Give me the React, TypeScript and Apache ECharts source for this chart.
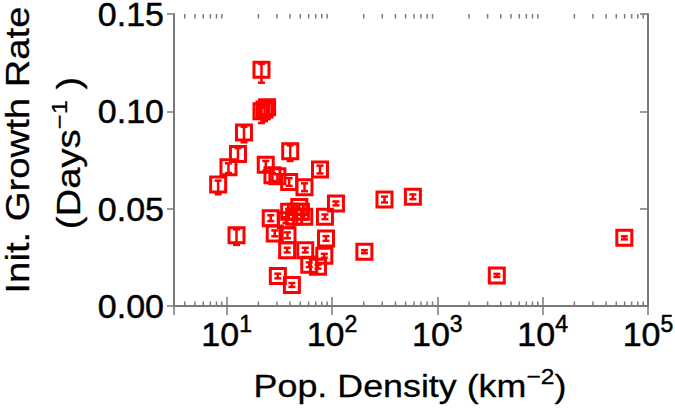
import React, { useEffect, useRef } from "react";
import * as echarts from "echarts";

// Population density (km^-2) for each region
const density = [21.4, 21.4, 22.9, 24.2, 14.6, 12.8, 10.4, 8.3, 40.1, 23.5, 27.2, 30.3, 39.2, 54.8, 76.9, 109, 12.4, 26.2, 39.2, 45.4, 50.7, 43.7, 54.5, 36.5, 48.9, 85.7, 28.6, 37.8, 87.7, 37.5, 55.7, 84.5, 60.8, 73.6, 30.6, 41.6, 315, 586, 203, 3670, 59600];
// Initial growth rate (days^-1)
const rate = [0.1214, 0.1, 0.101, 0.1021, 0.0891, 0.0781, 0.0713, 0.0624, 0.0795, 0.0725, 0.0672, 0.0667, 0.0637, 0.061, 0.0701, 0.0527, 0.0364, 0.0451, 0.0484, 0.0484, 0.0484, 0.0458, 0.0458, 0.0441, 0.0508, 0.0458, 0.0373, 0.0363, 0.0347, 0.0287, 0.0287, 0.0258, 0.0212, 0.0202, 0.0154, 0.0108, 0.0547, 0.0561, 0.0279, 0.0157, 0.035];
// error below / above the value
const errLow = [0.0067, 0.006, 0.006, 0.006, 0.005, 0.004, 0.003, 0.005, 0.005, 0.003, 0.003, 0.003, 0.002, 0.002, 0.002, 0.001, 0.005, 0.0015, 0.0015, 0.0015, 0.0015, 0.0015, 0.0015, 0.0015, 0.0015, 0.0012, 0.0015, 0.0015, 0.0012, 0.0012, 0.0012, 0.001, 0.0012, 0.001, 0.0012, 0.001, 0.0015, 0.0012, 0.0008, 0.0008, 0.0008];
const errHigh = [0.003, 0.002, 0.002, 0.002, 0.003, 0.003, 0.002, 0.002, 0.003, 0.002, 0.001, 0.001, 0.002, 0.002, 0.002, 0.001, 0.003, 0.0015, 0.0015, 0.0015, 0.0015, 0.0015, 0.0015, 0.0015, 0.0015, 0.0012, 0.0015, 0.0015, 0.0012, 0.0012, 0.0012, 0.001, 0.0012, 0.001, 0.0012, 0.001, 0.0015, 0.0012, 0.0008, 0.0008, 0.0008];

// axis ticks
const xDecadeExponents = [1, 2, 3, 4, 5];
const yTickValues = [0, 0.05, 0.1, 0.15];
const xMin = 3.1623;
const xMax = 100000;
const minorMultipliers = [2, 3, 4, 5, 6, 7, 8, 9];
const minorDecades = [1, 10, 100, 1000, 10000];

const FONT = "'Liberation Sans', Arial, Helvetica, sans-serif";
const RED = "#ff0000";
const GREY = "#7a7a7a";

export default function App() {
  const ref = useRef<HTMLDivElement>(null);
  useEffect(() => {
    if (!ref.current) return;
    const chart = echarts.init(ref.current, null, { renderer: "svg" });

    const points = density.map((d, i) => [d, rate[i]]);
    const errData = density.map((d, i) => [d, rate[i] - errLow[i], rate[i] + errHigh[i]]);
    const minorTicks: number[][] = [];
    minorDecades.forEach((dec) =>
      minorMultipliers.forEach((m) => {
        const v = dec * m;
        if (v > xMin && v < xMax) minorTicks.push([v, 0]);
      })
    );

    const xLabelFormatter = (v: number) => {
      const lg = Math.log10(v);
      const e = Math.round(lg);
      if (Math.abs(lg - e) > 1e-6 || xDecadeExponents.indexOf(e) < 0) return "";
      return `{b|10}{s|${e}}`;
    };

    const bold = { textBorderColor: "#000", textBorderWidth: 0.5 };
    const boldG = { stroke: "#000", lineWidth: 0.3 };

    chart.setOption({
      animation: false,
      grid: { left: 174, right: 27, top: 14, bottom: 103, outerBoundsMode: "none" },
      xAxis: [
        {
          type: "log",
          logBase: 10,
          min: xMin,
          max: xMax,
          position: "bottom",
          axisLine: { lineStyle: { color: GREY, width: 2 } },
          axisTick: { inside: true, length: 9, lineStyle: { color: GREY, width: 1.5 } },
          splitLine: { show: false },
          axisLabel: {
            formatter: xLabelFormatter,
            margin: 6,
            rich: {
              b: { fontSize: 34, lineHeight: 44, fontFamily: FONT, color: "#000", ...bold },
              s: { fontSize: 23, lineHeight: 22, verticalAlign: "top", fontFamily: FONT, color: "#000", ...bold },
            },
          },
        },
        {
          type: "log",
          logBase: 10,
          min: xMin,
          max: xMax,
          position: "top",
          axisLine: { lineStyle: { color: GREY, width: 2 } },
          axisTick: { inside: true, length: 9, lineStyle: { color: GREY, width: 1.5 } },
          splitLine: { show: false },
          axisLabel: { show: false },
        },
      ],
      yAxis: [
        {
          type: "value",
          min: 0,
          max: 0.15,
          interval: 0.05,
          position: "left",
          axisLine: { show: true, lineStyle: { color: GREY, width: 2 } },
          axisTick: { show: true, inside: false, length: 7, lineStyle: { color: GREY, width: 1.5 } },
          splitLine: { show: false },
          axisLabel: {
            margin: 10,
            fontSize: 34,
            lineHeight: 26,
            fontFamily: FONT,
            color: "#000",
            ...bold,
            formatter: (v: number) => {
              const idx = yTickValues.findIndex((t) => Math.abs(t - v) < 1e-9);
              return idx >= 0 ? yTickValues[idx].toFixed(2) : "";
            },
          },
        },
        {
          type: "value",
          min: 0,
          max: 0.15,
          interval: 0.05,
          position: "right",
          axisLine: { show: true, lineStyle: { color: GREY, width: 2 } },
          axisTick: { show: true, inside: true, length: 8, lineStyle: { color: GREY, width: 1.5 } },
          splitLine: { show: false },
          axisLabel: { show: false },
        },
      ],
      graphic: [
        {
          type: "text",
          x: 18,
          y: 150,
          rotation: Math.PI / 2,
          scaleX: 1.16,
          scaleY: 1,
          style: {
            text: "Init. Growth Rate",
            fontSize: 33,
            fontFamily: FONT,
            fill: "#000",
            ...boldG,
            align: "center",
            verticalAlign: "middle",
          },
        },
        {
          type: "text",
          x: 69,
          y: 153,
          rotation: Math.PI / 2,
          scaleX: 1.16,
          scaleY: 1,
          style: {
            text: "{n|(Days}{s|−1}{n| )}",
            fill: "#000",
            ...boldG,
            align: "center",
            verticalAlign: "middle",
            rich: {
              n: { fontSize: 33, lineHeight: 42, fontFamily: FONT, fill: "#000", ...boldG },
              s: { fontSize: 22, lineHeight: 22, verticalAlign: "top", fontFamily: FONT, fill: "#000", ...boldG },
            },
          },
        },
        {
          type: "text",
          x: 410,
          y: 386,
          scaleX: 1.12,
          scaleY: 1,
          style: {
            text: "{n|Pop. Density (km}{s|−2}{n|)}",
            fill: "#000",
            ...boldG,
            align: "center",
            verticalAlign: "middle",
            rich: {
              n: { fontSize: 32, lineHeight: 42, fontFamily: FONT, fill: "#000", ...boldG },
              s: { fontSize: 22, lineHeight: 22, verticalAlign: "top", fontFamily: FONT, fill: "#000", ...boldG },
            },
          },
        },
      ],
      series: [
        {
          type: "custom",
          name: "minorTicks",
          xAxisIndex: 0,
          yAxisIndex: 0,
          silent: true,
          clip: false,
          data: minorTicks,
          renderItem: (params: any, api: any) => {
            const v = api.value(0);
            const pB = api.coord([v, 0]);
            const pT = api.coord([v, 0.15]);
            const st = { stroke: GREY, lineWidth: 1.5 };
            return {
              type: "group",
              children: [
                { type: "line", shape: { x1: pB[0], y1: pB[1], x2: pB[0], y2: pB[1] - 4.5 }, style: st },
                { type: "line", shape: { x1: pT[0], y1: pT[1], x2: pT[0], y2: pT[1] + 4.5 }, style: st },
              ],
            };
          },
        },
        {
          type: "custom",
          name: "errors",
          xAxisIndex: 0,
          yAxisIndex: 0,
          silent: true,
          data: errData,
          encode: { x: 0, y: [1, 2] },
          renderItem: (params: any, api: any) => {
            const x = api.value(0);
            const lo = api.coord([x, api.value(1)]);
            const hi = api.coord([x, api.value(2)]);
            const w = 3.5;
            const st = { stroke: RED, lineWidth: 2.5 };
            return {
              type: "group",
              children: [
                { type: "line", shape: { x1: lo[0], y1: lo[1], x2: hi[0], y2: hi[1] }, style: st },
                { type: "line", shape: { x1: lo[0] - w, y1: lo[1], x2: lo[0] + w, y2: lo[1] }, style: st },
                { type: "line", shape: { x1: hi[0] - w, y1: hi[1], x2: hi[0] + w, y2: hi[1] }, style: st },
              ],
            };
          },
        },
        {
          type: "scatter",
          name: "regions",
          xAxisIndex: 0,
          yAxisIndex: 0,
          data: points,
          symbol: "rect",
          symbolSize: 15,
          itemStyle: { color: "rgba(0,0,0,0)", borderColor: RED, borderWidth: 3, opacity: 1 },
          emphasis: { disabled: true },
        },
      ],
    });
    return () => chart.dispose();
  }, []);
  return (
    <div
      ref={ref}
      style={{ position: "fixed", left: 0, top: 0, width: 675, height: 409, background: "#fff" }}
    />
  );
}
